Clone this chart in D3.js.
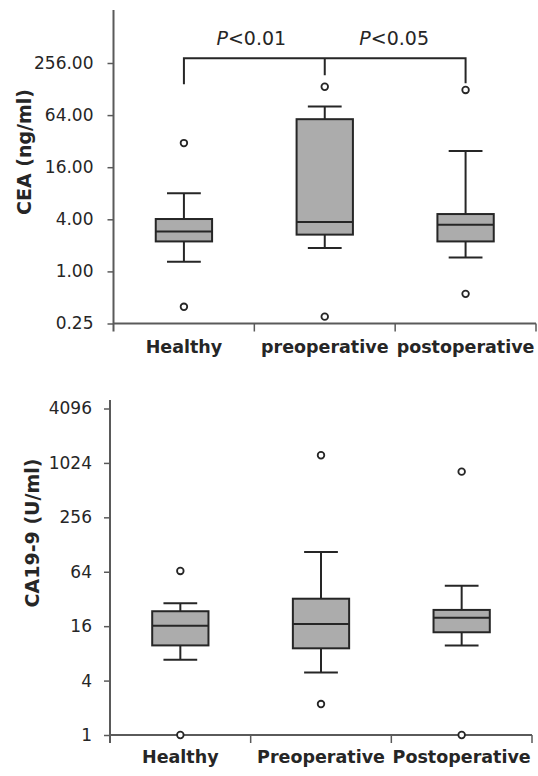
<!DOCTYPE html>
<html>
<head>
<meta charset="utf-8">
<script src="https://cdn.jsdelivr.net/npm/d3@7"></script>
<style>
  body { margin: 0; background: #fff; }
  svg { display: block; font-family: "DejaVu Sans", sans-serif; }
</style>
</head>
<body>
<svg id="chart" width="538" height="776"></svg>
<script>
// CEA panel
const ceaCats = ['Healthy', 'preoperative', 'postoperative'];
const ceaMin = [1.29, 1.87, 1.45];
const ceaQ1 = [2.22, 2.66, 2.22];
const ceaMed = [2.9, 3.72, 3.46];
const ceaQ3 = [4.03, 57.4, 4.6];
const ceaMax = [8.0, 80.2, 24.7];
const ceaOut = [[30.4, 0.39], [136, 0.30], [125, 0.55]];
const ceaTicks = [0.25, 1, 4, 16, 64, 256];

// CA19-9 panel
const caCats = ['Healthy', 'Preoperative', 'Postoperative'];
const caMin = [6.8, 4.9, 9.8];
const caQ1 = [9.8, 9.1, 13.7];
const caMed = [16.2, 16.9, 19.8];
const caQ3 = [23.4, 32.2, 24.2];
const caMax = [28.7, 106, 44.9];
const caOut = [[65.3, 1], [1245, 2.2], [820, 1]];
const caTicks = [1, 4, 16, 64, 256, 1024, 4096];

// significance brackets (top panel)
const pLabels = ['P<0.01', 'P<0.05'];
const pPairs = [[0, 1], [1, 2]];

const svg = d3.select('#chart');
const axisColor = '#5a5a5a';
const ink = '#262626';

function drawPanel(opt) {
    const { cats, mins, q1s, meds, q3s, maxs, outs, ticks, fmt, title } = opt;
    const g = svg.append('g');

    const y = d3.scaleLog().base(2).domain([ticks[0], ticks[ticks.length - 1]])
        .range([opt.bottom, opt.topTick]);
    const x = d3.scaleBand().domain(cats).range([opt.left, opt.right]);

    //y axis
    const yAxis = g.append('g')
        .attr('transform', `translate(${opt.left},0)`)
        .call(d3.axisLeft(y).tickValues(ticks).tickFormat(fmt).tickSize(6).tickPadding(opt.pad));
    yAxis.select('.domain').remove();
    yAxis.selectAll('.tick line').attr('stroke', axisColor).attr('stroke-width', 1.5);
    yAxis.selectAll('.tick text')
        .attr('font-family', 'DejaVu Sans')
        .attr('font-size', 17)
        .attr('fill', ink);

    g.append('line')
        .attr('x1', opt.left).attr('x2', opt.left)
        .attr('y1', opt.axisTop).attr('y2', opt.bottom + 8)
        .attr('stroke', axisColor).attr('stroke-width', 2);

    //x axis with ticks at category boundaries
    g.append('line')
        .attr('x1', opt.left).attr('x2', opt.right)
        .attr('y1', opt.bottom).attr('y2', opt.bottom)
        .attr('stroke', axisColor).attr('stroke-width', 2);
    const bounds = cats.slice(1).map(c => x(c)).concat([opt.right]);
    g.selectAll('.xtick')
        .data(bounds)
        .join('line')
        .attr('x1', d => d).attr('x2', d => d)
        .attr('y1', opt.bottom).attr('y2', opt.bottom + 8)
        .attr('stroke', axisColor).attr('stroke-width', 1.5);

    g.selectAll('.xlab')
        .data(cats)
        .join('text')
        .attr('x', d => x(d) + x.bandwidth() / 2)
        .attr('y', opt.bottom + opt.labelDy)
        .attr('text-anchor', 'middle')
        .attr('font-weight', 'bold')
        .attr('font-size', 17.5)
        .attr('fill', ink)
        .text(d => d);

    //axis title
    g.append('text')
        .attr('transform', `translate(${opt.titleX},${opt.titleY}) rotate(-90)`)
        .attr('text-anchor', 'middle')
        .attr('font-weight', 'bold')
        .attr('font-size', opt.titleSize)
        .attr('fill', ink)
        .text(title);

    //boxes
    const boxW = x.bandwidth() * 0.4;
    const capW = x.bandwidth() * 0.24;
    const rows = cats.map((c, i) => ({
        c, min: mins[i], q1: q1s[i], med: meds[i], q3: q3s[i], max: maxs[i], out: outs[i]
    }));
    const cx = d => x(d.c) + x.bandwidth() / 2;

    const box = g.selectAll('.box').data(rows).join('g');
    box.append('line')
        .attr('x1', cx).attr('x2', cx)
        .attr('y1', d => y(d.max)).attr('y2', d => y(d.min))
        .attr('stroke', ink).attr('stroke-width', 2);
    box.append('line')
        .attr('x1', d => cx(d) - capW / 2).attr('x2', d => cx(d) + capW / 2)
        .attr('y1', d => y(d.max)).attr('y2', d => y(d.max))
        .attr('stroke', ink).attr('stroke-width', 2);
    box.append('line')
        .attr('x1', d => cx(d) - capW / 2).attr('x2', d => cx(d) + capW / 2)
        .attr('y1', d => y(d.min)).attr('y2', d => y(d.min))
        .attr('stroke', ink).attr('stroke-width', 2);
    box.append('rect')
        .attr('x', d => cx(d) - boxW / 2)
        .attr('width', boxW)
        .attr('y', d => y(d.q3))
        .attr('height', d => y(d.q1) - y(d.q3))
        .attr('fill', '#acacac')
        .attr('stroke', ink).attr('stroke-width', 2);
    box.append('line')
        .attr('x1', d => cx(d) - boxW / 2).attr('x2', d => cx(d) + boxW / 2)
        .attr('y1', d => y(d.med)).attr('y2', d => y(d.med))
        .attr('stroke', ink).attr('stroke-width', 2);
    box.selectAll('circle')
        .data(d => d.out.map(v => ({ c: d.c, v })))
        .join('circle')
        .attr('cx', cx)
        .attr('cy', d => y(d.v))
        .attr('r', 3.3)
        .attr('fill', '#fff')
        .attr('stroke', ink).attr('stroke-width', 1.8);

    return { x, y, cx };
}

const ceaPanel = drawPanel({
    cats: ceaCats, mins: ceaMin, q1s: ceaQ1, meds: ceaMed, q3s: ceaQ3, maxs: ceaMax, outs: ceaOut,
    ticks: ceaTicks, fmt: d3.format('.2f'), title: 'CEA (ng/ml)',
    left: 113.5, right: 536, bottom: 323.5, topTick: 63, axisTop: 10, pad: 14,
    labelDy: 29, titleX: 31, titleY: 152, titleSize: 19
});

drawPanel({
    cats: caCats, mins: caMin, q1s: caQ1, meds: caMed, q3s: caQ3, maxs: caMax, outs: caOut,
    ticks: caTicks, fmt: d3.format('d'), title: 'CA19-9 (U/ml)',
    left: 110, right: 532, bottom: 735, topTick: 408.5, axisTop: 400, pad: 12,
    labelDy: 28, titleX: 39, titleY: 533, titleSize: 19
});

//significance bracket
const barY = 58.3;
const dropLen = [26, 17, 25];
const centers = ceaCats.map(c => ceaPanel.x(c) + ceaPanel.x.bandwidth() / 2);
svg.append('path')
    .attr('d', `M${centers[0]},${barY + dropLen[0]}V${barY}H${centers[2]}V${barY + dropLen[2]}` +
        `M${centers[1]},${barY}V${barY + dropLen[1]}`)
    .attr('fill', 'none')
    .attr('stroke', ink).attr('stroke-width', 2);

const pText = svg.selectAll('.ptext')
    .data(pPairs)
    .join('text')
    .attr('x', (d, i) => (centers[d[0]] + centers[d[1]]) / 2 - 3 + i * 2)
    .attr('y', 45)
    .attr('text-anchor', 'middle')
    .attr('font-size', 19)
    .attr('fill', ink);
pText.append('tspan').attr('font-style', 'italic').text((d, i) => pLabels[i].slice(0, 1));
pText.append('tspan').text((d, i) => pLabels[i].slice(1));
</script>
</body>
</html>
